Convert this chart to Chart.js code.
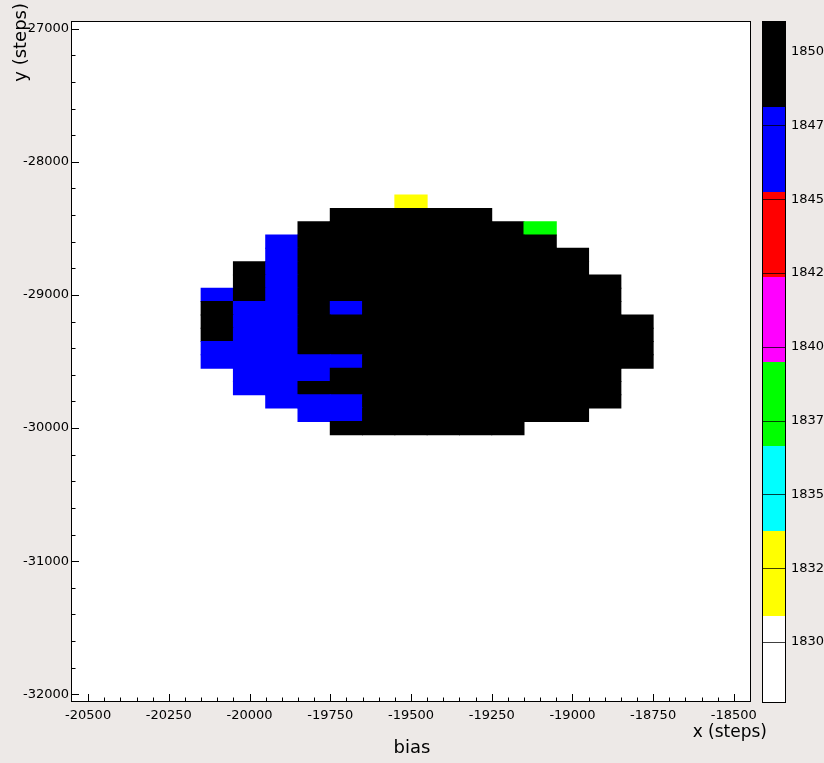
<!DOCTYPE html>
<html>
<head>
<meta charset="utf-8">
<script src="https://cdn.jsdelivr.net/npm/chart.js@4.4.1/dist/chart.umd.min.js"></script>
<style>
html,body{margin:0;padding:0;background:#ede9e7;overflow:hidden}
canvas{display:block}
</style>
</head>
<body>
<canvas id="c" width="824" height="763"></canvas>
<script>
// ---- data ----
const titleText = 'bias';
const xTitle = 'x (steps)';
const yTitle = 'y (steps)';
const xCenters = [-20100,-20000,-19900,-19800,-19700,-19600,-19500,-19400,-19300,-19200,-19100,-19000,-18900,-18800];
const yCenters = [-28300,-28400,-28500,-28600,-28700,-28800,-28900,-29000,-29100,-29200,-29300,-29400,-29500,-29600,-29700,-29800,-29900,-30000];
const binSize = 100;
const K = 1850, B = 1847, G = 1838, Y = 1832, _ = null;
const zRows = [
  [_,_,_,_,_,_,Y,_,_,_,_,_,_,_],
  [_,_,_,_,K,K,K,K,K,_,_,_,_,_],
  [_,_,_,K,K,K,K,K,K,K,G,_,_,_],
  [_,_,B,K,K,K,K,K,K,K,K,_,_,_],
  [_,_,B,K,K,K,K,K,K,K,K,K,_,_],
  [_,K,B,K,K,K,K,K,K,K,K,K,_,_],
  [_,K,B,K,K,K,K,K,K,K,K,K,K,_],
  [B,K,B,K,K,K,K,K,K,K,K,K,K,_],
  [K,B,B,K,B,K,K,K,K,K,K,K,K,_],
  [K,B,B,K,K,K,K,K,K,K,K,K,K,K],
  [K,B,B,K,K,K,K,K,K,K,K,K,K,K],
  [B,B,B,K,K,K,K,K,K,K,K,K,K,K],
  [B,B,B,B,B,K,K,K,K,K,K,K,K,K],
  [_,B,B,B,K,K,K,K,K,K,K,K,K,_],
  [_,B,B,K,K,K,K,K,K,K,K,K,K,_],
  [_,_,B,B,B,K,K,K,K,K,K,K,K,_],
  [_,_,_,B,B,K,K,K,K,K,K,K,_,_],
  [_,_,_,_,K,K,K,K,K,K,_,_,_,_]
];
const xMin = -20550, xMax = -18450;
const yMin = -32050, yMax = -26950;
const zMin = 1828, zMax = 1851;
const xTicks = [-20500,-20250,-20000,-19750,-19500,-19250,-19000,-18750,-18500];
const yTicks = [-27000,-28000,-29000,-30000,-31000,-32000];
const zTicks = [1830,1832.5,1835,1837.5,1840,1842.5,1845,1847.5,1850];
const palette = ['#ffffff','#ffff00','#00ffff','#00ff00','#ff00ff','#ff0000','#0000ff','#000000'];
const xMinorStep = 50, yMinorStep = 200;

// ---- build cells ----
const cells = [];
zRows.forEach((row, r) => row.forEach((v, c) => {
  if (v !== null) cells.push({x: xCenters[c], y: [yCenters[r] - binSize/2, yCenters[r] + binSize/2], v: v});
}));
function colorFor(v) {
  if (v === null || v === undefined) return 'rgba(0,0,0,0)';
  let i = Math.floor((v - zMin) / (zMax - zMin) * palette.length);
  i = Math.max(0, Math.min(palette.length - 1, i));
  return palette[i];
}
const FONT = 'DejaVu Sans';

const framePlugin = {
  id: 'framePlugin',
  beforeDraw(chart) {
    const {ctx, chartArea: a} = chart;
    ctx.save();
    ctx.fillStyle = '#ede9e7';
    ctx.fillRect(0, 0, chart.width, chart.height);
    ctx.fillStyle = '#ffffff';
    ctx.fillRect(a.left, a.top, a.right - a.left, a.bottom - a.top);
    ctx.restore();
  },
  afterDraw(chart) {
    const {ctx, chartArea: a} = chart;
    const xs = chart.scales.x, ys = chart.scales.y, zs = chart.scales.z;
    ctx.save();
    ctx.strokeStyle = '#000';
    ctx.lineWidth = 1;
    ctx.beginPath();
    for (let v = Math.ceil(xMin / xMinorStep) * xMinorStep; v <= xMax; v += xMinorStep) {
      const px = Math.round(xs.getPixelForValue(v)) + 0.5;
      if (px <= a.left + 1 || px >= a.right - 1) continue;
      const len = (xTicks.includes(v)) ? 7 : 3.5;
      ctx.moveTo(px, a.bottom);
      ctx.lineTo(px, a.bottom - len);
    }
    for (let v = Math.ceil(yMin / yMinorStep) * yMinorStep; v <= yMax; v += yMinorStep) {
      const py = Math.round(ys.getPixelForValue(v)) + 0.5;
      if (py <= a.top + 1 || py >= a.bottom - 1) continue;
      const len = (yTicks.includes(v)) ? 7 : 3.5;
      ctx.moveTo(a.left, py);
      ctx.lineTo(a.left + len, py);
    }
    ctx.stroke();
    ctx.strokeRect(a.left - 0.5, a.top - 0.5, a.right - a.left + 1, a.bottom - a.top + 1);

    // colour bar
    const cbL = a.right + 13, cbW = 22;
    const top = zs.getPixelForValue(zMax), bot = zs.getPixelForValue(zMin);
    const n = palette.length;
    for (let i = 0; i < n; i++) {
      const z0 = zMin + (zMax - zMin) * i / n, z1 = zMin + (zMax - zMin) * (i + 1) / n;
      const y0 = zs.getPixelForValue(z0), y1 = zs.getPixelForValue(z1);
      ctx.fillStyle = palette[i];
      ctx.fillRect(cbL, Math.round(y1), cbW, Math.round(y0) - Math.round(y1) + (i === 0 ? 1 : 0));
    }
    ctx.beginPath();
    zTicks.forEach(v => {
      const py = Math.round(zs.getPixelForValue(v)) + 0.5;
      ctx.moveTo(cbL, py);
      ctx.lineTo(cbL + cbW, py);
    });
    ctx.strokeStyle = 'rgba(0,0,0,0.75)';
    ctx.stroke();
    ctx.strokeStyle = '#000';
    ctx.strokeRect(cbL - 0.5, Math.round(top) - 0.5, cbW + 1, Math.round(bot) - Math.round(top) + 2);

    // axis titles
    ctx.fillStyle = '#000';
    ctx.textBaseline = 'middle';
    ctx.textAlign = 'right';
    ctx.font = '17px "' + FONT + '"';
    ctx.fillText(xTitle, a.right + 17, a.bottom + 32);
    ctx.font = '18px "' + FONT + '"';
    ctx.translate(21, 3);
    ctx.rotate(-Math.PI / 2);
    ctx.fillText(yTitle, 0, 0);
    ctx.restore();
  }
};

const tickFont = {family: FONT, size: 13};
const noPad = (s) => { s.paddingTop = 0; s.paddingBottom = 0; s.paddingLeft = 0; s.paddingRight = 0; };
new Chart(document.getElementById('c'), {
  type: 'bar',
  data: {
    datasets: [{
      data: cells,
      backgroundColor: (c) => colorFor(c.raw ? c.raw.v : null),
      borderWidth: 0,
      inflateAmount: 0.5,
      barPercentage: 1,
      categoryPercentage: 1,
      grouped: false
    }]
  },
  options: {
    responsive: false,
    animation: false,
    events: [],
    layout: {padding: {top: 22, left: 0, right: 0, bottom: 0}},
    plugins: {
      legend: {display: false},
      tooltip: {enabled: false},
      title: {
        display: true, position: 'bottom', text: titleText, color: '#000',
        font: {family: FONT, size: 18, weight: 'normal', lineHeight: '22px'},
        padding: {top: 0, bottom: 4}
      }
    },
    scales: {
      x: {
        type: 'linear', position: 'bottom', min: xMin, max: xMax, offset: false,
        grid: {display: false, drawTicks: false, tickLength: 0, offset: false}, border: {display: false},
        afterBuildTicks: (s) => { s.ticks = xTicks.map(v => ({value: v})); },
        afterFit: (s) => { s.height = 36; noPad(s); },
        ticks: {autoSkip: false, maxRotation: 0, padding: 7, color: '#000', font: tickFont, callback: (v) => String(v)}
      },
      y: {
        type: 'linear', position: 'left', min: yMin, max: yMax,
        grid: {display: false, drawTicks: false, tickLength: 0}, border: {display: false},
        afterBuildTicks: (s) => { s.ticks = yTicks.map(v => ({value: v})); },
        afterFit: (s) => { s.width = 72; noPad(s); },
        ticks: {autoSkip: false, padding: 3, color: '#000', font: tickFont, callback: (v) => String(v)}
      },
      z: {
        type: 'linear', position: 'right', min: zMin, max: zMax,
        grid: {display: false, drawTicks: false, tickLength: 0}, border: {display: false},
        afterBuildTicks: (s) => { s.ticks = zTicks.map(v => ({value: v})); },
        afterFit: (s) => { s.width = 74; noPad(s); },
        ticks: {autoSkip: false, padding: 41, color: '#000', font: tickFont, callback: (v) => String(v)}
      }
    }
  },
  plugins: [framePlugin]
});
</script>
</body>
</html>
